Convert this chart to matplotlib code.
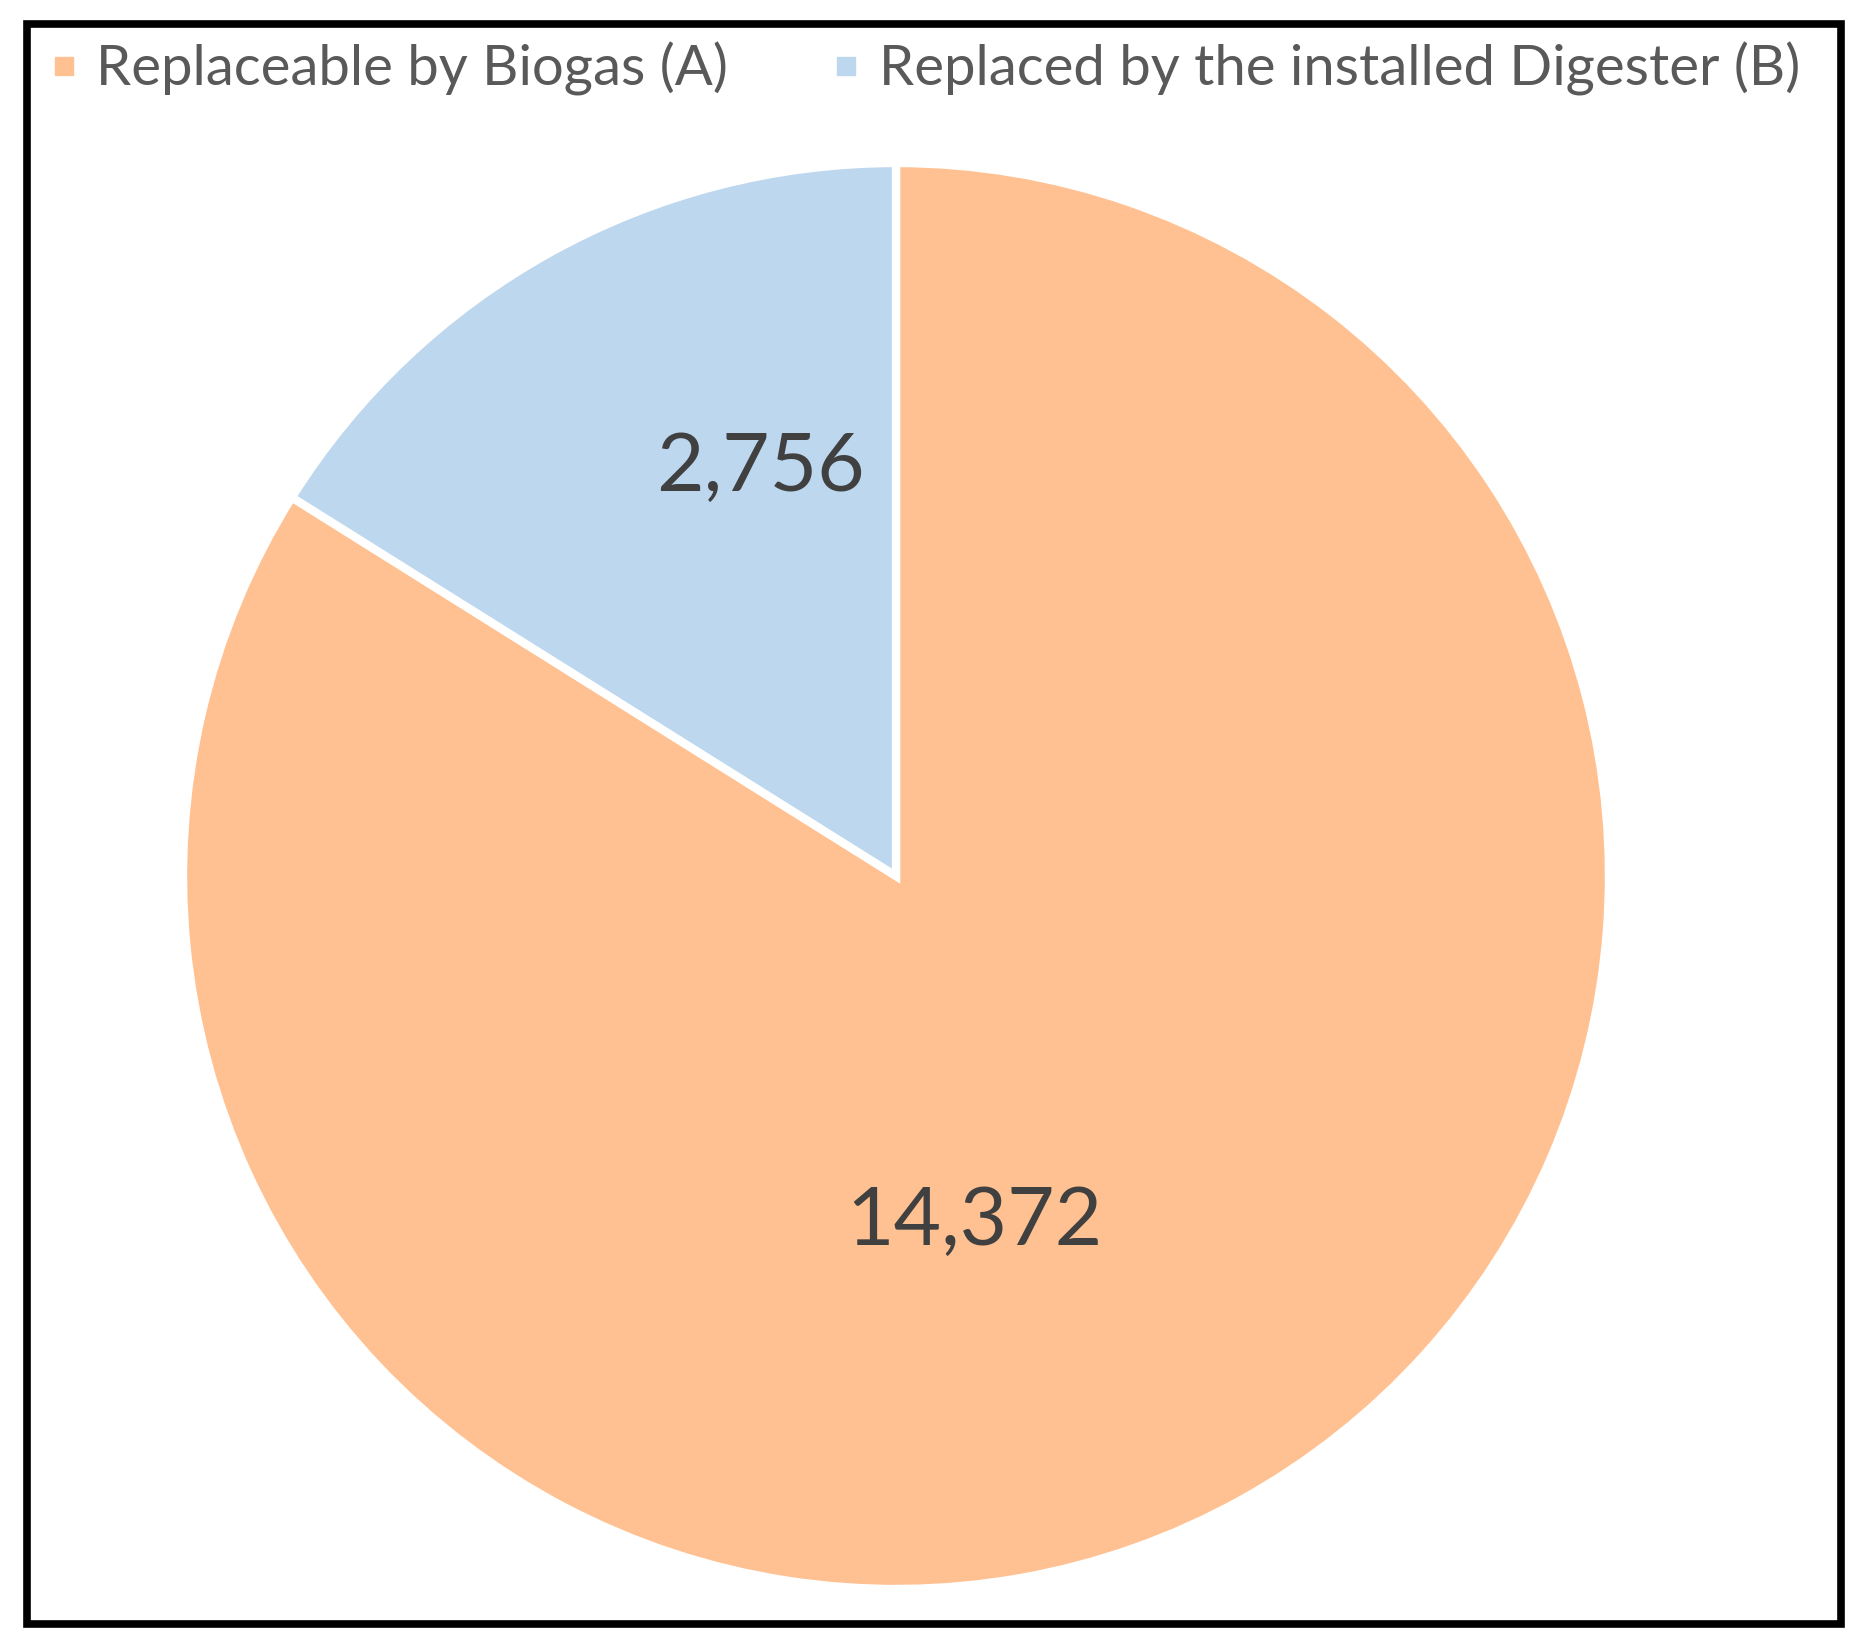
import matplotlib.pyplot as plt
from matplotlib.lines import Line2D
from matplotlib.patches import Rectangle

labels = ['Replaceable by Biogas (A)', 'Replaced by the installed Digester (B)']
values = [14372, 2756]
colors = ['#FFC191', '#BDD7EE']
value_text = ['14,372', '2,756']
# where the value labels sit, in pie-radius units
label_xy = [(0.11, -0.485), (-0.19, 0.573)]

plt.rcParams['font.family'] = ['Lato', 'DejaVu Sans']

W, H = 1865, 1652
fig = plt.figure(figsize=(W / 100, H / 100), dpi=100)

# pie centre and radius in pixels
cx, cy, r = 896, 876, 713
ax = fig.add_axes([(cx - r) / W, (H - cy - r) / H, 2 * r / W, 2 * r / H])
ax.pie(values, colors=colors, startangle=90, counterclock=False,
       wedgeprops=dict(edgecolor='white', linewidth=6))
ax.set_xlim(-1, 1)
ax.set_ylim(-1, 1)
ax.set_aspect('equal')
ax.axis('off')

for t, (x, y) in zip(value_text, label_xy):
    ax.text(x, y, t, ha='center', va='center', fontsize=59, color='#404040')

handles = [Line2D([], [], marker='s', linestyle='none', markersize=13,
                  markerfacecolor=c, markeredgecolor=c) for c in colors]
fig.legend(handles, labels, loc='center left', ncol=2, frameon=False,
           bbox_to_anchor=(47 / W, 1 - 69 / H), fontsize=40.5,
           labelcolor='#595959', handletextpad=0.28, columnspacing=1.79,
           handlelength=0.6, borderaxespad=0, borderpad=0)

fig.patches.append(Rectangle((27.5 / W, 1 - 1624 / H), (1841 - 27.5) / W, (1624 - 23.5) / H,
                             transform=fig.transFigure, fill=False,
                             edgecolor='black', linewidth=5.5))

fig.savefig('out.png', dpi=100)
